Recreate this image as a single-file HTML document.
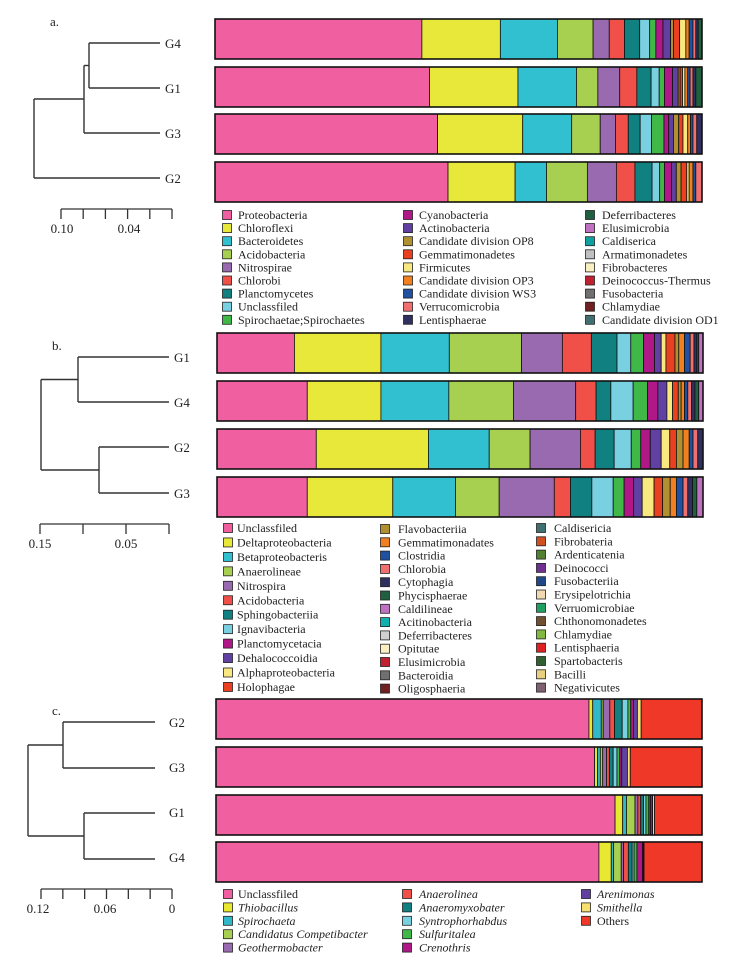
<!DOCTYPE html>
<html><head><meta charset="utf-8">
<style>
html,body{margin:0;padding:0;background:#fff;}
svg{display:block;font-family:"Liberation Serif",serif;}
.lg{font-size:12px;fill:#222;}
.gl{font-size:13px;fill:#222;}
.it{font-style:italic;}
</style></head>
<body>
<svg id="fig" width="739" height="959" viewBox="0 0 739 959" xmlns="http://www.w3.org/2000/svg">
<rect width="739" height="959" fill="#fff"/>
<g id="pa"></g>
<g id="pb"></g>
<g id="pc"></g>
</svg>
<script>
// ---------- Panel A data (phylum) ----------
const aSeries = ["Proteobacteria","Chloroflexi","Bacteroidetes","Acidobacteria","Nitrospirae","Chlorobi","Planctomycetes","Unclassfiled","Spirochaetae;Spirochaetes","Cyanobacteria","Actinobacteria","Candidate division OP8","Gemmatimonadetes","Firmicutes","Candidate division OP3","Candidate division WS3","Verrucomicrobia","Lentisphaerae","Deferribacteres","Elusimicrobia","Caldiserica","Armatimonadetes","Fibrobacteres","Deinococcus-Thermus","Fusobacteria","Chlamydiae","Candidate division OD1"];
const aColors = ["#f060a0","#e8e83a","#30c0d0","#a8d050","#9a6ab0","#f05048","#108080","#78d0e0","#40b848","#b01888","#6040a0","#b09030","#e84020","#f8e880","#f08020","#2050a0","#f07070","#303060","#206040","#c070c0","#10a0a0","#c0c0c0","#f8f0c0","#c02030","#707070","#702020","#407070"];
const aGroups = ["G4","G1","G3","G2"];
const aG4 = [435,165,120,75,34,32,32,21,13,15,16,6,13,13,7,8,6,5,8];
const aG1 = [451,186,123,45,46,36,30,17,11,17,12,4,5,5,6,5,6,6,13];
const aG3 = [468,179,103,60,32,27,25,24,26,10,10,11,9,10,6,5,8,11];
const aG2 = [490,141,66,86,61,39,36,16,10,15,10,10,12,5,8,6,13];
const aTicks = ["0.10","0.04"];

// ---------- Panel B data (class) ----------
const bSeries = ["Unclassfiled","Deltaproteobacteria","Betaproteobacteris","Anaerolineae","Nitrospira","Acidobacteria","Sphingobacteriia","Ignavibacteria","Planctomycetacia","Dehalococcoidia","Alphaproteobacteria","Holophagae","Flavobacteriia","Gemmatimonadates","Clostridia","Chlorobia","Cytophagia","Phycisphaerae","Caldilineae","Acitinobacteria","Deferribacteres","Opitutae","Elusimicrobia","Bacteroidia","Oligosphaeria","Caldisericia","Fibrobateria","Ardenticatenia","Deinococci","Fusobacteriia","Erysipelotrichia","Verruomicrobiae","Chthonomonadetes","Chlamydiae","Lentisphaeria","Spartobacteris","Bacilli","Negativicutes"];
const bColors = ["#f060a0","#e8e83a","#30c0d0","#a8d050","#9a6ab0","#f05048","#108080","#78d0e0","#40b848","#b01888","#6040a0","#f8e880","#e84020","#b09030","#f08020","#2050a0","#f07070","#303060","#206040","#c070c0","#10b0b0","#d0d0d0","#f8f0c0","#c02030","#707070","#702020","#407070","#d05020","#508030","#703090","#204888","#f0d8b0","#20a060","#705030","#80b840","#e02020","#306030","#e8d080","#806070"];
const bLegendColors = ["#f060a0","#e8e83a","#30c0d0","#a8d050","#9a6ab0","#f05048","#108080","#78d0e0","#b01888","#6040a0","#f8e880","#e84020","#b09030","#f08020","#2050a0","#f07070","#303060","#206040","#c070c0","#10b0b0","#d0d0d0","#f8f0c0","#c02030","#707070","#702020","#407070","#d05020","#508030","#703090","#204888","#f0d8b0","#20a060","#705030","#80b840","#e02020","#306030","#e8d080","#806070"];
const bGroups = ["G1","G4","G2","G3"];
const bG1 = [163,182,144,152,86,61,54,29,27,23,14,10,19,8,12,12,8,6,4,9];
const bG4 = [190,155,143,136,131,43,31,47,30,22,19,12,12,6,7,7,8,7,8,9];
const bG2 = [209,236,128,86,106,31,40,36,20,20,23,18,14,14,13,8,10,11];
const bG3 = [190,180,132,92,116,34,45,45,23,20,18,25,18,16,13,14,10,10,9,13];
const bTicks = ["0.15","0.05"];

// ---------- Panel C data (genus) ----------
const cSeries = ["Unclassfiled","Thiobacillus","Spirochaeta","Candidatus Competibacter","Geothermobacter","Anaerolinea","Anaeromyxobater","Syntrophorhabdus","Sulfuritalea","Crenothris","Arenimonas","Smithella","Others"];
const cColors = ["#f060a0","#e8e830","#30b8c8","#a8d050","#9a6ab0","#f05048","#108080","#78d0e0","#40b848","#b01888","#6040a0","#f8e070","#f03828"];
const cGroups = ["G2","G3","G1","G4"];
const cG2 = [785,8,18,4,14,10,16,12,6,6,8,8,128];
const cG3 = [797,6,6,5,8,6,8,8,6,4,12,6,151];
const cG1 = [840,16,8,18,6,6,6,5,6,4,4,4,100];
const cG4 = [806,26,5,16,5,10,8,4,6,12,2,1,122];
const cTicks = ["0.12","0.06","0"];

const NS="http://www.w3.org/2000/svg";
function mk(tag,attrs,parent){const e=document.createElementNS(NS,tag);for(const k in attrs)e.setAttribute(k,attrs[k]);parent.appendChild(e);return e;}

function drawBars(g,groups,data,colors,x0,x1,ys,h){
  groups.forEach((gn,i)=>{
    const vals=data[i];const tot=vals.reduce((a,b)=>a+b,0);
    const sx=v=>x0+(x1-x0)*v/tot;
    let acc=0;
    const bg=mk('g',{},g);
    
    
    vals.forEach((v,j)=>{
      const r=mk('rect',{x:sx(acc),y:ys[i],width:Math.max(0,sx(acc+v)-sx(acc)),height:h,fill:colors[j],stroke:'#111','stroke-width':0.8},bg);
      
      
      acc+=v;
    });
    const o=mk('rect',{x:x0,y:ys[i],width:x1-x0,height:h,fill:'none',stroke:'#111','stroke-width':1.6},bg);
    
    
  });
}
function line(g,x1,y1,x2,y2,w){const l=mk('line',{x1,y1,x2,y2,stroke:'#333','stroke-width':w||1.4},g);return l;}
function txt(g,x,y,s,cls,anchor){const t=mk('text',{x,y,class:cls||'lg','text-anchor':anchor||'start'},g);t.textContent=s;return t;}
function legend(g,items,colors,cols,italicSet){
  let k=0;
  cols.forEach(c=>{
    for(let r=0;r<c.n;r++){
      const y=c.y0+r*c.dy;
      const it=mk('g',{},g);
      
      
      mk('rect',{x:c.sx-4.5,y:y-4.5,width:9,height:9,fill:colors[k],stroke:'#222','stroke-width':0.8},it);
      const t=txt(it,c.tx,y+4,items[k],'lg'+(italicSet&&italicSet(items[k])?' it':''));
      k++;
    }
  });
}
function scale(g,x0,x1,n,y,labels,lx,ly){
  const sg=mk('g',{},g);
  
  
  mk('line',{x1:x0,y1:y,x2:x1,y2:y,stroke:'#333','stroke-width':1.3},sg);
  for(let i=0;i<n;i++){const x=x0+(x1-x0)*i/(n-1);mk('line',{x1:x,y1:y,x2:x,y2:y+10,stroke:'#333','stroke-width':1.3},sg);}
  labels.forEach((s,i)=>{const t=txt(sg,lx[i],ly,s,'gl','middle');});
}

// Panel A
(function(){
  const g=document.getElementById('pa');
  txt(g,50,26,'a.','gl');
  drawBars(g,aGroups,[aG4,aG1,aG3,aG2],aColors,215,702,[19,67,114,162],40);
  const ly=[43,88,133,178];
  aGroups.forEach((s,i)=>txt(g,165,ly[i]+5,s,'gl'));
  line(g,89,43,160,43);line(g,89,88,160,88);line(g,89,43,89,88);
  line(g,84,65.5,89,65.5);line(g,84,133,160,133);line(g,84,65.5,84,133);
  line(g,34,99,84,99);line(g,34,178,160,178);line(g,34,99,34,178);
  scale(g,61,172,6,209,aTicks,[62,129],233);
  legend(g,aSeries,aColors,[{n:9,y0:215,dy:13.1,sx:227,tx:238},{n:9,y0:215,dy:13.1,sx:408,tx:419},{n:9,y0:215,dy:13.1,sx:590,tx:602}]);
})();
// Panel B
(function(){
  const g=document.getElementById('pb');
  txt(g,52,350,'b.','gl');
  drawBars(g,bGroups,[bG1,bG4,bG2,bG3],bColors,217,703,[333,381,429,477],40);
  const ly=[357,402,447,493];
  bGroups.forEach((s,i)=>txt(g,174,ly[i]+5,s,'gl'));
  line(g,78,357,169,357);line(g,78,402,169,402);line(g,78,357,78,402);
  line(g,99,447,169,447);line(g,99,493,169,493);line(g,99,447,99,493);
  line(g,41,379.5,78,379.5);line(g,41,470,99,470);line(g,41,379.5,41,470);
  scale(g,40,169,4,524,bTicks,[40,126],548);
  legend(g,bSeries,bLegendColors,[{n:12,y0:528,dy:14.45,sx:228,tx:237},{n:13,y0:529,dy:13.3,sx:385,tx:398},{n:13,y0:528,dy:13.3,sx:541,tx:554}]);
})();
// Panel C
(function(){
  const g=document.getElementById('pc');
  txt(g,52,715,'c.','gl');
  drawBars(g,cGroups,[cG2,cG3,cG1,cG4],cColors,216,702,[699,747,795,842],40);
  const ly=[722,767,812,857];
  cGroups.forEach((s,i)=>txt(g,169,ly[i]+5,s,'gl'));
  line(g,63,722,155,722);line(g,63,768,155,768);line(g,63,722,63,768);
  line(g,84,813,155,813);line(g,84,859,155,859);line(g,84,813,84,859);
  line(g,28,745,63,745);line(g,28,836,84,836);line(g,28,745,28,836);
  scale(g,41,172,7,889,cTicks,[38,105,172],913);
  legend(g,cSeries,cColors,[{n:5,y0:894,dy:13.4,sx:228,tx:238},{n:5,y0:894,dy:13.4,sx:407,tx:419},{n:3,y0:894,dy:13.4,sx:586,tx:597}],s=>s!=='Unclassfiled'&&s!=='Others');
})();
</script>
</body></html>
